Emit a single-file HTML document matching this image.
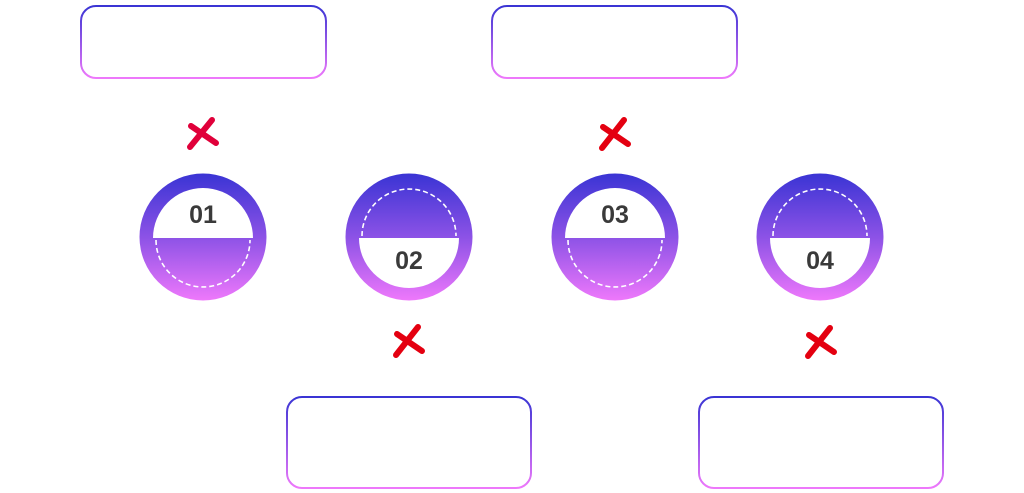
<!DOCTYPE html>
<html><head><meta charset="utf-8"><style>
html,body{margin:0;padding:0;background:#fff;}
svg{display:block;}
text{font-family:"Liberation Sans",sans-serif;font-weight:bold;fill:#3a3a3a;font-size:25px;}
</style></head><body>
<svg width="1024" height="493" viewBox="0 0 1024 493" xmlns="http://www.w3.org/2000/svg">
<defs>
<linearGradient id="g" x1="0" y1="0" x2="0" y2="1">
<stop offset="0" stop-color="#3a34d4"/><stop offset="0.5" stop-color="#8c52e6"/><stop offset="1" stop-color="#ee78fb"/>
</linearGradient>
<linearGradient id="gb" x1="0" y1="0" x2="0" y2="1">
<stop offset="0" stop-color="#3a34d4"/><stop offset="1" stop-color="#ee78fb"/>
</linearGradient>
</defs>
<!-- boxes -->
<rect x="81" y="6" width="245" height="72" rx="15" fill="#fff" stroke="url(#gb)" stroke-width="2"/>
<rect x="492" y="6" width="245" height="72" rx="15" fill="#fff" stroke="url(#gb)" stroke-width="2"/>
<rect x="287" y="397" width="244" height="91" rx="15" fill="#fff" stroke="url(#gb)" stroke-width="2"/>
<rect x="699" y="397" width="244" height="91" rx="15" fill="#fff" stroke="url(#gb)" stroke-width="2"/>

<!-- circle 1 (white top) -->
<g transform="translate(203,237)">
<circle r="63.5" fill="url(#g)" transform="translate(0,0)"/>
<path d="M-50,1 A50,50 0 0 1 50,1 Z" fill="#fff"/>
<path d="M-47,3 A47,47 0 0 0 47,3" fill="none" stroke="#fff" stroke-width="1.6" stroke-dasharray="5,3"/>
<text x="0" y="-14" text-anchor="middle">01</text>
</g>
<!-- circle 2 (white bottom) -->
<g transform="translate(409,237)">
<circle r="63.5" fill="url(#g)"/>
<path d="M-50,1 A50,50 0 0 0 50,1 Z" fill="#fff"/>
<path d="M-47,-1 A47,47 0 0 1 47,-1" fill="none" stroke="#fff" stroke-width="1.6" stroke-dasharray="5,3"/>
<text x="0" y="32" text-anchor="middle">02</text>
</g>
<!-- circle 3 -->
<g transform="translate(615,237)">
<circle r="63.5" fill="url(#g)"/>
<path d="M-50,1 A50,50 0 0 1 50,1 Z" fill="#fff"/>
<path d="M-47,3 A47,47 0 0 0 47,3" fill="none" stroke="#fff" stroke-width="1.6" stroke-dasharray="5,3"/>
<text x="0" y="-14" text-anchor="middle">03</text>
</g>
<!-- circle 4 -->
<g transform="translate(820,237)">
<circle r="63.5" fill="url(#g)"/>
<path d="M-50,1 A50,50 0 0 0 50,1 Z" fill="#fff"/>
<path d="M-47,-1 A47,47 0 0 1 47,-1" fill="none" stroke="#fff" stroke-width="1.6" stroke-dasharray="5,3"/>
<text x="0" y="32" text-anchor="middle">04</text>
</g>

<!-- crosses -->
<g stroke-width="6" stroke-linecap="round" fill="none">
<g stroke="#e0003a"><line x1="190" y1="147" x2="212" y2="120"/><line x1="191" y1="126" x2="216" y2="143"/></g>
<g stroke="#e40010"><line x1="602" y1="148" x2="624" y2="120"/><line x1="603" y1="127" x2="628" y2="144"/></g>
<g stroke="#e40010"><line x1="396" y1="355" x2="418" y2="327"/><line x1="397" y1="334" x2="422" y2="351"/></g>
<g stroke="#e40010"><line x1="808" y1="356" x2="830" y2="328"/><line x1="809" y1="335" x2="834" y2="352"/></g>
</g>
</svg>
</body></html>
